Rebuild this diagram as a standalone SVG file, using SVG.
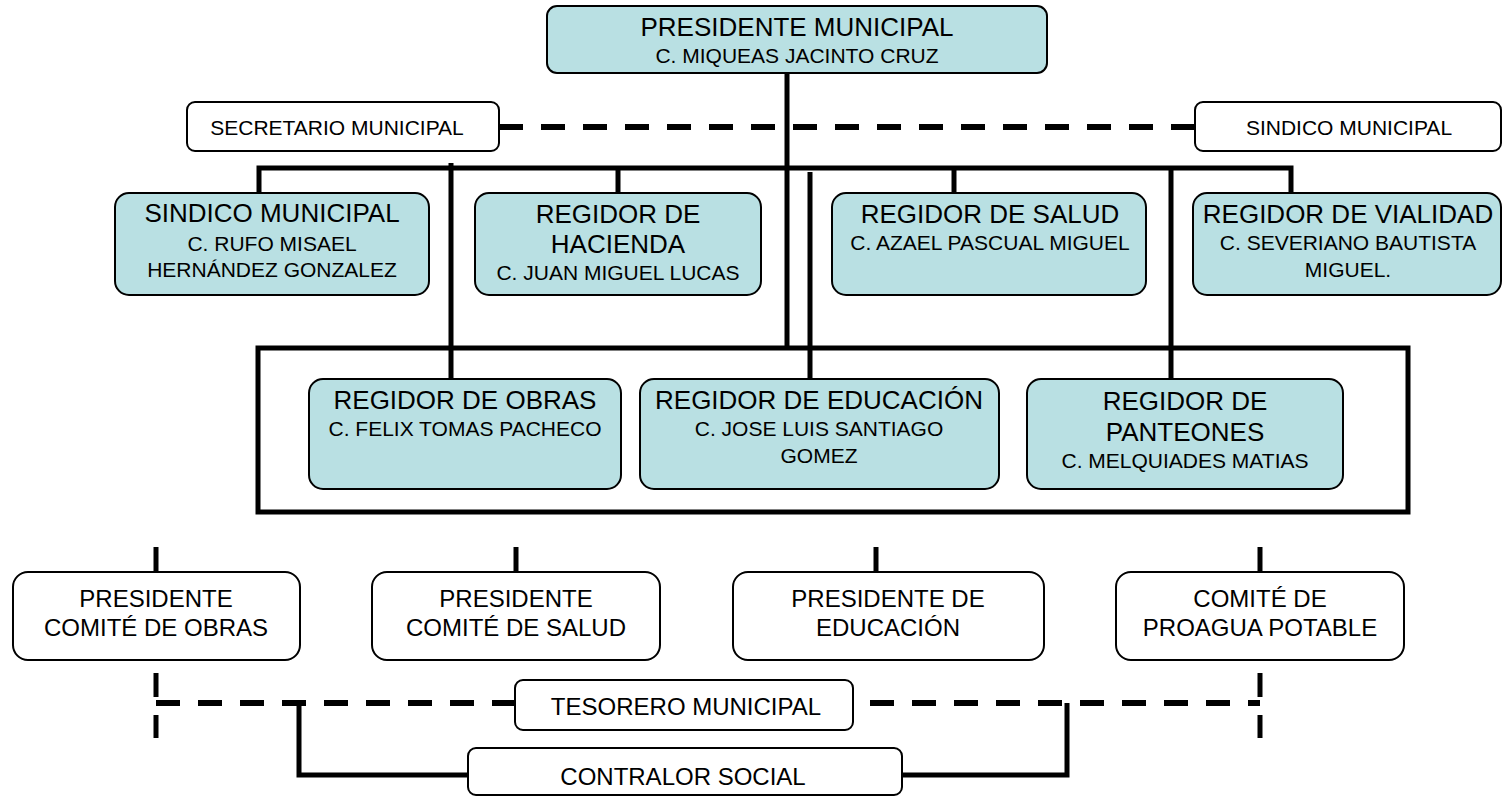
<svg xmlns="http://www.w3.org/2000/svg" width="1503" height="797" viewBox="0 0 1503 797">
<style>
.n{fill:#b9e0e3;stroke:#000;stroke-width:2}
.w{fill:#fff;stroke:#000;stroke-width:2}
text{font-family:"Liberation Sans",Arial,sans-serif;fill:#000;text-anchor:middle}
.t{font-size:26px}
.s{font-size:21px}
.b{font-size:24px}
.c{stroke:#000;stroke-width:5;fill:none}
.d{stroke:#000;stroke-width:6;fill:none;stroke-dasharray:24 18}
</style>
<rect width="1503" height="797" fill="#fff"/>
<g id="connectors">
<line class="c" x1="787" y1="73" x2="787" y2="348"/>
<polyline class="c" points="259,193 259,168 1291,168 1291,193"/>
<line class="c" x1="618" y1="168" x2="618" y2="193"/>
<line class="c" x1="954" y1="168" x2="954" y2="193"/>
<line class="c" x1="451" y1="163" x2="451" y2="379"/>
<line class="c" x1="810" y1="172" x2="810" y2="379"/>
<line class="c" x1="1171" y1="168" x2="1171" y2="379"/>
<rect class="c" x="258" y="348" width="1150" height="164"/>
<line class="d" x1="499" y1="127" x2="1195" y2="127"/>
<line class="c" x1="156" y1="547" x2="156" y2="572"/>
<line class="c" x1="516" y1="547" x2="516" y2="572"/>
<line class="c" x1="876" y1="547" x2="876" y2="572"/>
<line class="c" x1="1260" y1="547" x2="1260" y2="572"/>
<line class="c" x1="516" y1="595" x2="516" y2="613"/>
<line class="c" x1="876" y1="595" x2="876" y2="613"/>
<line class="c" x1="156" y1="673" x2="156" y2="697"/>
<line class="c" x1="156" y1="715" x2="156" y2="738"/>
<line class="c" x1="1260" y1="673" x2="1260" y2="697"/>
<line class="c" x1="1260" y1="715" x2="1260" y2="738"/>
<line class="d" x1="156" y1="703" x2="515" y2="703"/>
<line class="d" x1="870" y1="703" x2="1260" y2="703"/>
<polyline class="c" points="299,703 299,775 468,775"/>
<polyline class="c" points="902,775 1067,775 1067,703"/>
</g>
<g id="presidente">
<rect class="n" x="547" y="6" width="500" height="67" rx="10"/>
<text class="t" x="797" y="36">PRESIDENTE MUNICIPAL</text>
<text class="s" x="797" y="63">C. MIQUEAS JACINTO CRUZ</text>
</g>
<g id="secretario">
<rect class="w" x="187" y="102" width="312" height="49" rx="8"/>
<text class="s" x="337" y="135">SECRETARIO MUNICIPAL</text>
</g>
<g id="sindico-top">
<rect class="w" x="1195" y="102" width="306" height="49" rx="8"/>
<text class="s" x="1349" y="135">SINDICO MUNICIPAL</text>
</g>
<g id="sindico">
<rect class="n" x="115" y="193" width="314" height="102" rx="14"/>
<text class="t" x="272" y="222">SINDICO MUNICIPAL</text>
<text class="s" x="272" y="251">C. RUFO MISAEL</text>
<text class="s" x="272" y="277">HERNÁNDEZ GONZALEZ</text>
</g>
<g id="hacienda">
<rect class="n" x="475" y="193" width="286" height="102" rx="14"/>
<text class="t" x="618" y="223">REGIDOR DE</text>
<text class="t" x="618" y="253">HACIENDA</text>
<text class="s" x="618" y="280">C. JUAN MIGUEL LUCAS</text>
</g>
<g id="salud">
<rect class="n" x="832" y="193" width="314" height="102" rx="14"/>
<text class="t" x="990" y="223">REGIDOR DE SALUD</text>
<text class="s" x="990" y="250">C. AZAEL PASCUAL MIGUEL</text>
</g>
<g id="vialidad">
<rect class="n" x="1193" y="193" width="308" height="102" rx="14"/>
<text class="t" x="1348" y="223">REGIDOR DE VIALIDAD</text>
<text class="s" x="1348" y="250">C. SEVERIANO BAUTISTA</text>
<text class="s" x="1348" y="277">MIGUEL.</text>
</g>
<g id="obras">
<rect class="n" x="309" y="379" width="312" height="110" rx="14"/>
<text class="t" x="465" y="409">REGIDOR DE OBRAS</text>
<text class="s" x="465" y="436">C. FELIX TOMAS PACHECO</text>
</g>
<g id="educacion">
<rect class="n" x="640" y="379" width="359" height="110" rx="14"/>
<text class="t" x="819" y="409">REGIDOR DE EDUCACIÓN</text>
<text class="s" x="819" y="436">C. JOSE LUIS SANTIAGO</text>
<text class="s" x="819" y="463">GOMEZ</text>
</g>
<g id="panteones">
<rect class="n" x="1027" y="379" width="316" height="110" rx="14"/>
<text class="t" x="1185" y="410">REGIDOR DE</text>
<text class="t" x="1185" y="441">PANTEONES</text>
<text class="s" x="1185" y="468">C. MELQUIADES MATIAS</text>
</g>
<g id="comite-obras">
<rect class="w" x="13" y="572" width="287" height="88" rx="15"/>
<text class="b" x="156" y="607">PRESIDENTE</text>
<text class="b" x="156" y="636">COMITÉ DE OBRAS</text>
</g>
<g id="comite-salud">
<rect class="w" x="372" y="572" width="288" height="88" rx="15"/>
<text class="b" x="516" y="607">PRESIDENTE</text>
<text class="b" x="516" y="636">COMITÉ DE SALUD</text>
</g>
<g id="comite-educacion">
<rect class="w" x="733" y="572" width="311" height="88" rx="15"/>
<text class="b" x="888" y="607">PRESIDENTE DE</text>
<text class="b" x="888" y="636">EDUCACIÓN</text>
</g>
<g id="comite-agua">
<rect class="w" x="1116" y="572" width="288" height="88" rx="15"/>
<text class="b" x="1260" y="607">COMITÉ DE</text>
<text class="b" x="1260" y="636">PROAGUA POTABLE</text>
</g>
<g id="tesorero">
<rect class="w" x="515" y="680" width="338" height="50" rx="8"/>
<text class="b" x="686" y="715">TESORERO MUNICIPAL</text>
</g>
<g id="contralor">
<rect class="w" x="468" y="748" width="434" height="47" rx="8"/>
<text class="b" x="683" y="785">CONTRALOR SOCIAL</text>
</g>
</svg>
